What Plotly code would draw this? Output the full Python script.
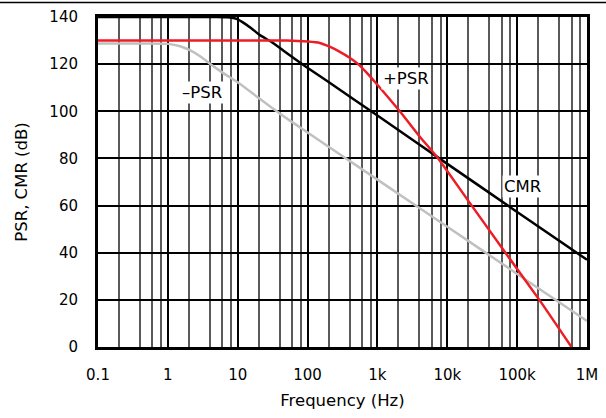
import plotly.graph_objects as go
import math

# ---- data ----
freq_cmr = [0.1, 1, 5, 7, 8.6, 10, 12, 15.8, 20.8, 30.5, 44.8, 66, 97, 200, 1000, 10000, 100000, 1000000]
cmr_db = [140, 140, 140, 139.9, 139.6, 139, 137.6, 135.1, 132.3, 129.4, 125.8, 122.2, 118.7, 112.4, 98.2, 77.7, 57.3, 37]

freq_psr_pos = [0.1, 1, 10, 50, 100, 150, 200, 290, 400, 530, 700, 970, 2090, 4050, 7400, 20000, 68000, 208000, 600000]
psr_pos_db = [130, 130, 130, 130, 129.6, 129, 127.6, 125.2, 122.7, 120, 116.4, 111.7, 100, 89.2, 80, 62, 40, 20, 0]

freq_psr_neg = [0.1, 0.5, 1, 1.5, 2.07, 3, 4, 6, 10.7, 20, 40, 100, 1000, 10000, 100000, 1000000]
psr_neg_db = [128.8, 128.8, 128.6, 127.6, 125.9, 123, 120.2, 116.5, 111.7, 105.6, 99, 91, 71, 51, 31, 11]

x_tick_vals = [0.1, 1, 10, 100, 1000, 10000, 100000, 1000000]
x_tick_text = ["0.1", "1", "10", "100", "1k", "10k", "100k", "1M"]
y_tick_vals = [0, 20, 40, 60, 80, 100, 120, 140]

labels = [
    ("\u2013PSR", 3.13, 108),
    ("+PSR", 2570, 113.9),
    ("CMR", 119000, 68.3),
]

FONT = "DejaVu Sans"

fig = go.Figure()
fig.add_trace(go.Scatter(x=freq_psr_neg, y=psr_neg_db, mode="lines", name="\u2013PSR",
                         line=dict(color="#c0c0c0", width=2.5, shape="spline", smoothing=0.6)))
fig.add_trace(go.Scatter(x=freq_cmr, y=cmr_db, mode="lines", name="CMR",
                         line=dict(color="#000000", width=2.5, shape="spline", smoothing=0.6)))
fig.add_trace(go.Scatter(x=freq_psr_pos, y=psr_pos_db, mode="lines", name="+PSR",
                         line=dict(color="#ee1c25", width=2.5, shape="spline", smoothing=0.6)))

minor_vals = [m * 10 ** e for e in range(-1, 6) for m in (2, 4, 6, 8)]

fig.update_xaxes(
    type="log", range=[-1, 6],
    tickmode="array", tickvals=x_tick_vals, ticktext=x_tick_text,
    showgrid=True, gridcolor="#000000", gridwidth=2,
    minor=dict(tickmode="array", tickvals=minor_vals, showgrid=True,
               gridcolor="#5a5a5a", gridwidth=1.5, ticks=""),
    showline=True, mirror=True, linecolor="#000000", linewidth=3,
    ticks="", zeroline=False, ticklabelstandoff=12,
    tickfont=dict(family=FONT, size=15, color="#000000"),
    title=dict(text="Frequency (Hz)", font=dict(family=FONT, size=16.5, color="#000000"), standoff=12),
)
fig.update_yaxes(
    range=[0, 140], tickmode="array", tickvals=y_tick_vals,
    showgrid=True, gridcolor="#000000", gridwidth=2,
    showline=True, mirror=True, linecolor="#000000", linewidth=3,
    ticks="", zeroline=False, ticklabelstandoff=14,
    tickfont=dict(family=FONT, size=15, color="#000000"),
    title=dict(text="PSR, CMR (dB)", font=dict(family=FONT, size=16.5, color="#000000"), standoff=18),
)

for text, fx, fy in labels:
    fig.add_annotation(x=math.log10(fx), y=fy, text=text, showarrow=False,
                       bgcolor="#ffffff", borderpad=1,
                       font=dict(family=FONT, size=16.5, color="#000000"))

# top separator rule
fig.add_shape(type="line", xref="paper", yref="paper",
              x0=-98 / 489, x1=508 / 489, y0=344.5 / 330, y1=344.5 / 330,
              line=dict(color="#000000", width=1.5))

fig.update_layout(
    width=606, height=418,
    margin=dict(l=98, r=19, t=17, b=71, autoexpand=False),
    paper_bgcolor="#ffffff", plot_bgcolor="#ffffff",
    showlegend=False,
    font=dict(family=FONT, color="#000000"),
)

fig.write_html("out.html", config={"displayModeBar": False},
               post_script="document.body.style.margin='0px';")
